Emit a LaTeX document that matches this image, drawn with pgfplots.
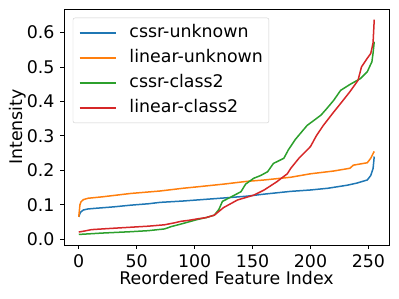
\documentclass[border=0pt]{standalone}
\usepackage{fontspec}
\setmainfont{DejaVu Sans}
\usepackage{pgfplots}
\pgfplotsset{compat=1.18}
\definecolor{tabblue}{HTML}{1F77B4}
\definecolor{taborange}{HTML}{FF7F0E}
\definecolor{tabgreen}{HTML}{2CA02C}
\definecolor{tabred}{HTML}{D62728}
\begin{document}
\fontsize{17.4bp}{21bp}\selectfont
\begin{tikzpicture}
\useasboundingbox (-64bp,-54bp) rectangle (335bp,245bp);
\begin{axis}[
  at={(0,0)}, anchor=south west,
  scale only axis,
  width=325bp, height=236bp,
  xmin=-12.75, xmax=267.75,
  ymin=-0.0166, ymax=0.668,
  xtick={0,50,100,150,200,250},
  ytick={0,0.1,0.2,0.3,0.4,0.5,0.6},
  yticklabel style={/pgf/number format/fixed,/pgf/number format/fixed zerofill,/pgf/number format/precision=1},
  /pgf/number format/assume math mode=true,
  tick align=outside,
  tick pos=left,
  major tick length=3.5bp,
  tick style={black, line width=0.8bp},
  axis line style={black, line width=0.8bp},
  ticklabel style={font=\fontsize{17.4bp}{21bp}\selectfont},
  label style={font=\fontsize{17.4bp}{21bp}\selectfont},
  xlabel={Reordered Feature Index},
  ylabel={Intensity},
  xlabel style={at={(axis description cs:0.5,-0.1665)}, anchor=base},
  ylabel style={at={(axis description cs:-0.128,0.5)}, anchor=base},
  legend cell align=left,
  legend style={at={(axis description cs:0.027,0.963)}, anchor=north west,
    draw=black!20, rounded corners=2bp, font=\fontsize{17.4bp}{21bp}\selectfont,
    nodes={inner sep=0bp, text height=13bp, text depth=4bp},
    row sep=8bp, column sep=13bp, inner xsep=6bp, inner ysep=6.5bp},
  legend image code/.code={\draw[#1, line width=1.5bp] (0bp,0bp) -- (36bp,0bp);},
  every axis plot/.append style={line width=1.5bp},
]
\addplot[tabblue] coordinates {
(0,0.065)(1,0.075)(2,0.080)(4,0.085)(8,0.088)(15,0.090)(30,0.094)(45,0.099)(60,0.103)(70,0.107)(90,0.111)(110,0.116)(130,0.121)(145,0.125)(150,0.127)(160,0.131)(183,0.139)(200,0.143)(215,0.148)(232,0.157)(240,0.163)(249,0.172)(252,0.185)(254,0.205)(255,0.240)};
\addlegendentry{cssr-unknown}
\addplot[taborange] coordinates {
(0,0.065)(1,0.100)(2,0.109)(4,0.115)(8,0.119)(20,0.123)(45,0.133)(70,0.140)(90,0.148)(102,0.152)(125,0.160)(145,0.168)(160,0.172)(183,0.180)(200,0.190)(220,0.198)(234,0.206)(237,0.215)(249,0.222)(252,0.235)(255,0.255)};
\addlegendentry{linear-unknown}
\addplot[tabgreen] coordinates {
(0,0.014)(20,0.018)(45,0.022)(60,0.025)(74,0.030)(80,0.037)(88,0.044)(102,0.057)(110,0.063)(117,0.070)(121,0.087)(124,0.110)(131,0.122)(140,0.138)(144,0.160)(151,0.177)(157,0.185)(163,0.196)(168,0.220)(177,0.235)(181,0.260)(187,0.290)(192,0.310)(197,0.330)(203,0.345)(209,0.360)(214,0.379)(220,0.403)(226,0.432)(234,0.449)(243,0.466)(249,0.486)(253,0.515)(254,0.540)(255,0.573)};
\addlegendentry{cssr-class2}
\addplot[tabred] coordinates {
(0,0.021)(5,0.024)(11,0.028)(25,0.031)(45,0.035)(60,0.038)(74,0.042)(83,0.048)(88,0.052)(95,0.055)(102,0.059)(110,0.063)(117,0.070)(125,0.092)(137,0.114)(151,0.128)(160,0.143)(171,0.167)(176,0.180)(180,0.190)(183,0.206)(190,0.235)(200,0.269)(205,0.300)(211,0.330)(220,0.369)(226,0.394)(234,0.428)(241,0.461)(244,0.500)(249,0.525)(252,0.539)(253,0.554)(254,0.570)(255,0.637)};
\addlegendentry{linear-class2}
\end{axis}
\end{tikzpicture}
\end{document}
